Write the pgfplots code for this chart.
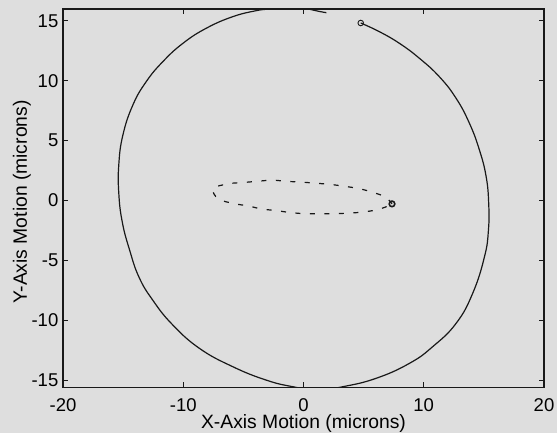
\documentclass[border=0pt]{standalone}
\usepackage{pgfplots}
\pgfplotsset{compat=1.18}
\usepackage{fontspec}
\setmainfont{Liberation Sans}
\definecolor{bggray}{RGB}{222,222,222}
\definecolor{ink}{RGB}{25,25,25}

\begin{document}
\begin{tikzpicture}
\fill[bggray] (-63pt,-45.7pt) rectangle (494pt,387.3pt);
\begin{axis}[
  at={(0,0)}, anchor=south west,
  scale only axis, width=481pt, height=378.3pt,
  xmin=-20, xmax=20, ymin=-15.6, ymax=16.0,
  xtick={-20,-10,0,10,20}, xticklabels={-20,-10,0,10,20},
  ytick={-15,-10,-5,0,5,10,15}, yticklabels={-15,-10,-5,0,5,10,15},
  tick align=inside, major tick length=5pt,
  axis line style={line width=1.4pt, ink},
  every tick/.style={ink, line width=1pt},
  axis background/.style={fill=bggray},
  axis on top,
  xticklabel style={font=\fontsize{18.5}{22}\selectfont, anchor=base, yshift=-24pt},
  yticklabel style={font=\fontsize{18.5}{22}\selectfont, anchor=east, inner sep=0pt, xshift=-4.5pt},
  xlabel={X-Axis Motion (microns)},
  ylabel={Y-Axis Motion (microns)},
  xlabel style={font=\fontsize{19.3}{23}\selectfont, at={(axis description cs:0.5,0)}, anchor=base, yshift=-41.5pt},
  ylabel style={font=\fontsize{19.3}{23}\selectfont, at={([xshift=-36pt]axis description cs:0,0.49)}, anchor=base},
]
% solid orbit
\addplot[ink, line width=1.2pt, smooth, tension=0.75] coordinates {
(4.76,14.83) (6.32,14.1) (7.98,13.13) (9.64,11.88) (11.3,10.34) (12.69,8.54)
(13.8,6.45) (14.63,4.22) (15.19,1.99) (15.4,-0.23) (15.38,-2.46) (15.05,-4.7)
(14.07,-7.75) (12.69,-10.26) (10.75,-12.2) (8.81,-13.6)
(6.04,-14.85) (3.27,-15.55) (1.2,-15.82) (-0.89,-15.55)
(-3.1,-15.0) (-5.88,-13.88) (-8.65,-12.35) (-10.93,-10.33) (-12.55,-8.3)
(-13.68,-6.4) (-14.46,-4.14) (-15.07,-1.8) (-15.36,0.6)
(-15.36,3.0) (-15.02,5.47) (-14.19,7.98) (-13.08,9.93) (-11.7,11.6)
(-10.03,13.13) (-8.09,14.39) (-5.88,15.36) (-3.93,15.86) (-2.83,16.0)
(-1.5,16.15) (-0.3,16.15) (0.5,15.98) (1.2,15.82) (1.9,15.69)
};
% dashed orbit
\addplot[ink, line width=1.2pt, smooth, tension=0.6, dash pattern=on 5pt off 9.5pt] coordinates {
(7.36,-0.28) (6.8,0.3) (5.7,0.7) (4.6,1.0) (3.33,1.2) (2.2,1.35) (0.97,1.45)
(-0.3,1.55) (-1.4,1.6) (-2.6,1.7) (-3.9,1.6) (-5.1,1.5) (-6.25,1.4) (-7.5,1.0)
(-7.1,0.15) (-5.8,-0.25) (-4.6,-0.45) (-3.5,-0.7) (-2.2,-0.85) (-1.1,-1.0)
(0.1,-1.1) (1.25,-1.1) (2.6,-1.1) (3.75,-1.05) (4.85,-0.97) (6.1,-0.77)
(7.2,-0.4) (7.36,-0.28)
};
% start markers
\addplot[only marks, mark=o, mark size=2.8pt, mark options={ink, line width=0.9pt}] coordinates {(4.76,14.83)};
\addplot[only marks, mark=o, mark size=2.8pt, mark options={ink, line width=1.6pt}] coordinates {(7.36,-0.28)};
\end{axis}
\pgfresetboundingbox
\path[use as bounding box] (-63pt,-45.7pt) rectangle (494pt,387.3pt);
\end{tikzpicture}
\end{document}
